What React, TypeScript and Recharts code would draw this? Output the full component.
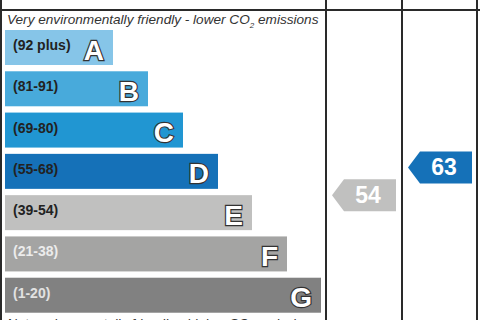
import { ComposedChart, Bar, XAxis, YAxis, ReferenceDot } from "recharts";

// EPC environmental impact (CO2) rating bands
const bands = ["A", "B", "C", "D", "E", "F", "G"];
const ranges = ["(92 plus)", "(81-91)", "(69-80)", "(55-68)", "(39-54)", "(21-38)", "(1-20)"];
const bandMin = [92, 81, 69, 55, 39, 21, 1];
const bandMax = [100, 91, 80, 68, 54, 38, 20];
const barLength = [108, 143, 178, 213, 247, 282, 316];
const bandColors = ["#86c5e8", "#48aadb", "#2196d2", "#1571b8", "#c0c0bf", "#a4a4a3", "#818181"];
const rangeColors = ["#222", "#222", "#222", "#222", "#222", "#ececec", "#e2e2e2"];

const currentRating = 54;
const potentialRating = 63;

const BAR_H = 35;
const CURRENT_TIP = 327; // x units, current column
const POTENTIAL_TIP = 403; // x units, potential column

const data = bands.map((band, i) => ({
  band,
  range: ranges[i],
  length: barLength[i],
  color: bandColors[i],
  rangeColor: rangeColors[i],
}));

const bandOf = (rating: number) => bands.findIndex((_, i) => rating >= bandMin[i] && rating <= bandMax[i]);

const BandShape = (props: any) => {
  const { x, y, width, height, payload } = props;
  return (
    <g>
      <rect x={x} y={y} width={width} height={height} fill={payload.color} />
      <text x={x + 8} y={y + 20} fontSize={14} fontWeight="bold" fill={payload.rangeColor} fontFamily="Liberation Sans, Arial, sans-serif">
        {payload.range}
      </text>
      <text
        x={x + width - 9}
        y={y + 29.5}
        textAnchor="end"
        fontSize={28}
        fontWeight="bold"
        fill="#fff"
        stroke="#333"
        strokeWidth={2.4}
        paintOrder="stroke"
        fontFamily="Liberation Sans, Arial, sans-serif"
      >
        {payload.band}
      </text>
    </g>
  );
};

function ratingArrow(rating: number) {
  const i = bandOf(rating);
  const frac = (bandMax[i] - rating) / (bandMax[i] - bandMin[i]);
  return (props: any) => {
    const { cx } = props;
    const cy = props.cy - BAR_H / 2 + frac * BAR_H;
    const pts = [
      [cx, cy],
      [cx + 12, cy - 16],
      [cx + 64, cy - 16],
      [cx + 64, cy + 16],
      [cx + 12, cy + 16],
    ]
      .map((p) => p.join(","))
      .join(" ");
    return (
      <g>
        <polygon points={pts} fill={bandColors[i]} />
        <text x={cx + 36} y={cy + 8} textAnchor="middle" fontSize={23} fontWeight="bold" fill="#fff" fontFamily="Liberation Sans, Arial, sans-serif">
          {rating}
        </text>
      </g>
    );
  };
}

const line = (s: React.CSSProperties): React.CSSProperties => ({ position: "absolute", background: "#2a2a2a", ...s });
const note: React.CSSProperties = { position: "absolute", left: 7, fontSize: 13.6, fontStyle: "italic", color: "#333", whiteSpace: "nowrap", lineHeight: "15px" };

export default function App() {
  return (
    <div style={{ position: "relative", width: 480, height: 320, overflow: "hidden", background: "#fff", fontFamily: "Liberation Sans, Arial, sans-serif" }}>
      <style>{"body{margin:0}"}</style>
      <div style={{ position: "absolute", top: -12, left: 326, width: 76, textAlign: "center", fontSize: 12, fontWeight: "bold", color: "#777" }}>Current</div>
      <div style={{ position: "absolute", top: -12, left: 402, width: 76, textAlign: "center", fontSize: 12, fontWeight: "bold", color: "#777" }}>Potential</div>
      <div style={{ ...note, top: 12 }}>
        Very environmentally friendly - lower CO<sub style={{ fontSize: 8, lineHeight: 0 }}>2</sub> emissions
      </div>
      <div style={{ ...note, top: 316 }}>
        Not environmentally friendly - higher CO<sub style={{ fontSize: 8, lineHeight: 0 }}>2</sub> emissions
      </div>
      <ComposedChart
        width={480}
        height={320}
        data={data}
        layout="vertical"
        margin={{ top: 27, right: 5, bottom: 4, left: 5 }}
        style={{ position: "absolute", top: 0, left: 0 }}
      >
        <XAxis type="number" domain={[0, 470]} hide allowDataOverflow />
        <YAxis type="category" dataKey="band" hide />
        <Bar dataKey="length" barSize={BAR_H} shape={BandShape} isAnimationActive={false} />
        <ReferenceDot x={CURRENT_TIP} y={bands[bandOf(currentRating)]} r={1} shape={ratingArrow(currentRating)} ifOverflow="visible" />
        <ReferenceDot x={POTENTIAL_TIP} y={bands[bandOf(potentialRating)]} r={1} shape={ratingArrow(potentialRating)} ifOverflow="visible" />
      </ComposedChart>
      <div style={line({ left: 0, top: 0, width: 2, height: 320 })} />
      <div style={line({ left: 0, top: 9, width: 480, height: 2 })} />
      <div style={line({ left: 325, top: 0, width: 2, height: 320 })} />
      <div style={line({ left: 401, top: 0, width: 2, height: 320 })} />
      <div style={line({ left: 476, top: 0, width: 2, height: 320 })} />
    </div>
  );
}
